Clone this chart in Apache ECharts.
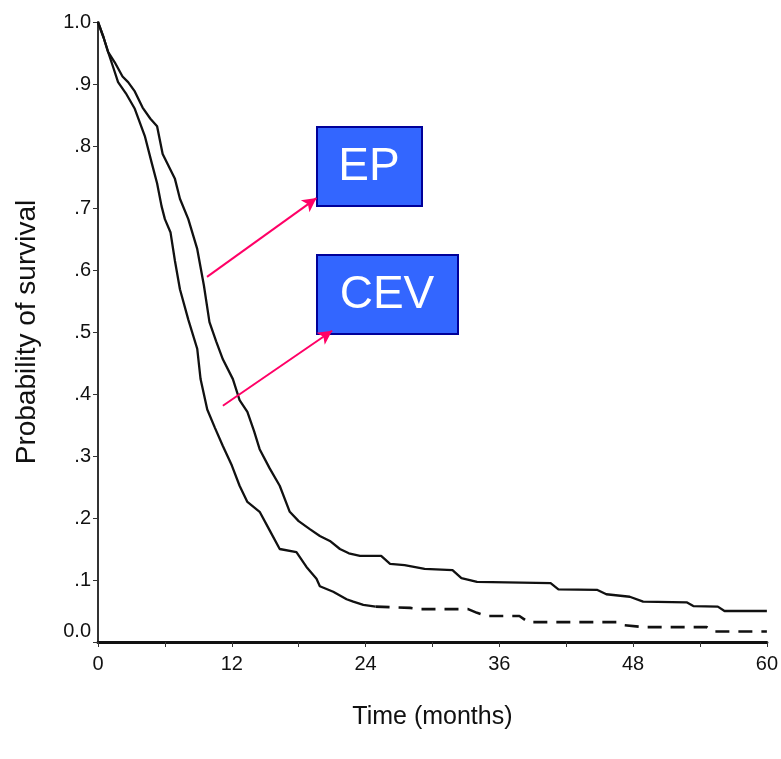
<!DOCTYPE html>
<html>
<head>
<meta charset="utf-8">
<script src="https://cdn.jsdelivr.net/npm/echarts@6/dist/echarts.min.js"></script>
<style>
  html, body { margin: 0; padding: 0; background: #fff; }
  #chart { width: 781px; height: 759px; }
</style>
</head>
<body>
<div id="chart"></div>
<script>
// Kaplan-Meier curves: [months, survival]
const epCurve = [
  [0, 1.0], [0.5, 0.975], [0.9, 0.952], [1.5, 0.935], [2.2, 0.912], [2.7, 0.903],
  [3.3, 0.888], [4.0, 0.862], [4.7, 0.844], [5.3, 0.832], [5.8, 0.787], [6.9, 0.747],
  [7.35, 0.715], [8.1, 0.682], [8.9, 0.634], [9.5, 0.575], [10.0, 0.516], [10.6, 0.485],
  [11.2, 0.456], [12.1, 0.424], [12.7, 0.39], [13.4, 0.371], [14.0, 0.34], [14.5, 0.311],
  [15.4, 0.28], [16.3, 0.252], [17.2, 0.21], [18.0, 0.195], [19.0, 0.182], [19.9, 0.171],
  [20.8, 0.163], [21.7, 0.15], [22.5, 0.143], [23.5, 0.139], [25.4, 0.139], [26.2, 0.126],
  [27.5, 0.124], [29.3, 0.118], [31.8, 0.116], [32.6, 0.103], [34.0, 0.097], [40.6, 0.095],
  [41.3, 0.085], [44.8, 0.084], [45.6, 0.077], [47.7, 0.073], [48.9, 0.065], [52.8, 0.064],
  [53.4, 0.058], [55.6, 0.057], [56.2, 0.05], [60, 0.05]
];
const cevCurve = [
  [0, 1.0], [0.5, 0.975], [0.9, 0.952], [1.4, 0.925], [1.8, 0.903], [2.5, 0.885],
  [3.3, 0.86], [4.2, 0.816], [4.8, 0.774], [5.3, 0.74], [5.7, 0.703], [6.0, 0.682],
  [6.5, 0.661], [6.9, 0.615], [7.35, 0.569], [8.1, 0.52], [8.9, 0.473], [9.2, 0.424],
  [9.8, 0.375], [10.5, 0.345], [11.2, 0.316], [12.0, 0.285], [12.7, 0.252], [13.4, 0.226],
  [14.5, 0.21], [15.4, 0.18], [16.3, 0.15], [17.8, 0.145], [18.7, 0.121], [19.6, 0.102],
  [19.9, 0.09], [21.1, 0.081], [22.3, 0.069], [22.9, 0.065], [23.8, 0.06], [24.9, 0.057]
];
const cevTail = [
  [24.9, 0.057], [26.6, 0.056], [28.0, 0.055], [29.0, 0.053], [33.2, 0.053], [34.0, 0.047],
  [34.9, 0.042], [37.8, 0.042], [38.6, 0.032], [46.5, 0.032], [47.2, 0.027], [49.0, 0.024],
  [54.6, 0.024], [55.2, 0.017], [60, 0.017]
];
// annotation arrows in data coordinates: [from, to]
const epArrow = [[9.78, 0.589], [19.6, 0.716]];
const cevArrow = [[11.2, 0.381], [21.0, 0.502]];

const font = "'Liberation Sans', Arial, sans-serif";
const chart = echarts.init(document.getElementById('chart'));

function arrow(pts) {
  return {
    silent: true,
    symbol: ['none', 'arrow'],
    symbolSize: [11, 14],
    label: { show: false },
    lineStyle: { color: '#ff0066', width: 2, type: 'solid' },
    data: [[{ coord: pts[0] }, { coord: pts[1] }]]
  };
}

const curveStyle = { color: '#111', width: 2.3 };

chart.setOption({
  animation: false,
  grid: { left: 98, right: 14, top: 22, bottom: 117, containLabel: false },
  xAxis: {
    type: 'value',
    min: 0, max: 60, interval: 6,
    name: 'Time (months)',
    nameLocation: 'middle',
    nameGap: 63,
    nameTextStyle: { fontFamily: font, fontSize: 25, color: '#111' },
    axisLine: { lineStyle: { color: '#111', width: 3 } },
    axisTick: { show: true, length: 5, lineStyle: { color: '#333', width: 1 } },
    axisLabel: {
      fontFamily: font, fontSize: 20, color: '#111', margin: 12,
      formatter: v => (v % 12 === 0 ? String(v) : '')
    },
    splitLine: { show: false }
  },
  yAxis: {
    type: 'value',
    min: 0, max: 1, interval: 0.1,
    name: 'Probability of survival',
    nameLocation: 'middle',
    nameGap: 57,
    nameTextStyle: { fontFamily: font, fontSize: 28, color: '#111' },
    axisLine: { show: true, lineStyle: { color: '#333', width: 2 } },
    axisTick: { show: true, length: 5, lineStyle: { color: '#333', width: 1 } },
    axisLabel: {
      fontFamily: font, fontSize: 20, color: '#111', margin: 7,
      formatter: v => {
        const t = Math.round(v * 10);
        if (t === 10) return '1.0';
        if (t === 0) return '{z|0.0}';
        return '.' + t;
      },
      rich: { z: { fontFamily: font, fontSize: 20, color: '#111', padding: [0, 0, 22, 0] } }
    },
    splitLine: { show: false }
  },
  series: [
    {
      name: 'EP', type: 'line', data: epCurve, showSymbol: false,
      lineStyle: curveStyle, markLine: arrow(epArrow)
    },
    {
      name: 'CEV', type: 'line', data: cevCurve, showSymbol: false,
      lineStyle: curveStyle, markLine: arrow(cevArrow)
    },
    {
      name: 'CEV tail', type: 'line', data: cevTail, showSymbol: false,
      lineStyle: { color: '#111', width: 2.6, type: [14, 9] }
    }
  ],
  graphic: [
    {
      type: 'group', left: 316, top: 126,
      children: [
        { type: 'rect', shape: { width: 105, height: 79 }, style: { fill: '#3366ff', stroke: '#000099', lineWidth: 2 } },
        { type: 'text', x: 52, y: 40, style: { text: 'EP', fill: '#fff', font: '46px ' + font, align: 'center', verticalAlign: 'middle' } }
      ]
    },
    {
      type: 'group', left: 316, top: 254,
      children: [
        { type: 'rect', shape: { width: 141, height: 79 }, style: { fill: '#3366ff', stroke: '#000099', lineWidth: 2 } },
        { type: 'text', x: 70, y: 40, style: { text: 'CEV', fill: '#fff', font: '46px ' + font, align: 'center', verticalAlign: 'middle' } }
      ]
    }
  ]
});
</script>
</body>
</html>
